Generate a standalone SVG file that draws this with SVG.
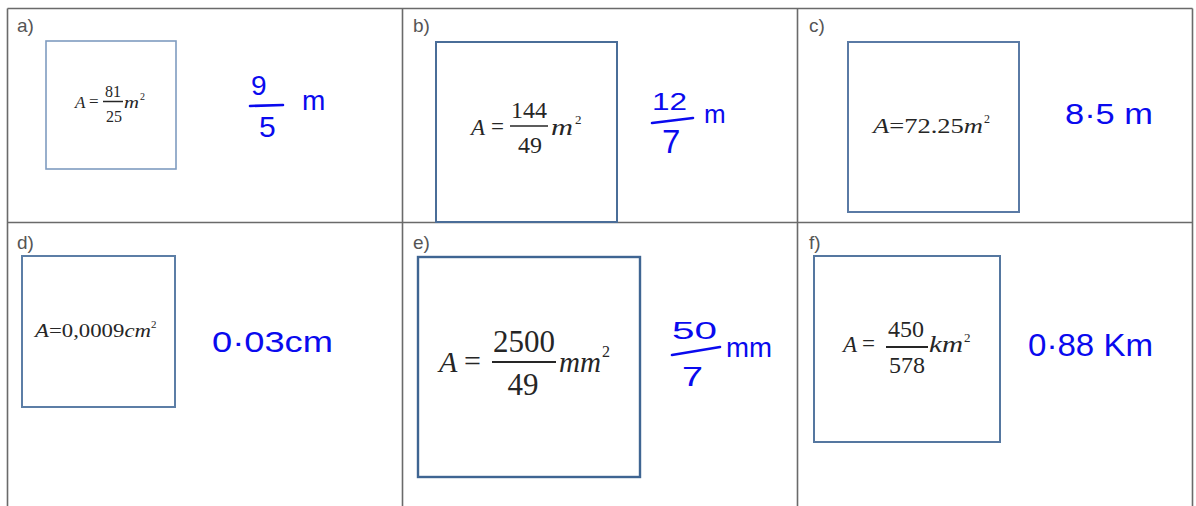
<svg xmlns="http://www.w3.org/2000/svg" width="1196" height="506" viewBox="0 0 1196 506">
<style>
.grid{stroke:#6a6a6a;stroke-width:1.6;fill:none}
.lbl{font-family:"Liberation Sans",Arial,sans-serif;font-size:19px;fill:#555}
.box{fill:none;stroke:#54759f;stroke-width:2}
.m{font-family:"Liberation Serif","Times New Roman",serif;fill:#262626}
.i{font-style:italic}
.fr{stroke:#262626;stroke-width:1.5}
.h{font-family:"Liberation Sans",Arial,sans-serif;fill:#0a0aee}
.hl{stroke:#0a0aee;stroke-width:2.6;stroke-linecap:round;fill:none}
</style>
<rect width="1196" height="506" fill="#fff"/>
<g id="table">
<path class="grid" d="M7.5 8.5 H1192.5 M7.5 8.5 V506 M402.5 8.5 V506 M797.5 8.5 V506 M1192.5 8.5 V506 M7.5 222.5 H1192.5"/>
</g>
<g id="cell-a">
<text class="lbl" x="17" y="32">a)</text>
<rect class="box" x="46" y="41" width="130" height="128" style="stroke:#7f9cc0;stroke-width:1.6"/>
<text class="m i" x="75" y="108" font-size="17">A</text>
<text class="m" x="89" y="107" font-size="17">=</text>
<text class="m" x="113" y="97" font-size="16" text-anchor="middle">81</text>
<line class="fr" x1="103" y1="101.5" x2="123" y2="101.5"/>
<text class="m" x="114" y="122" font-size="16" text-anchor="middle">25</text>
<text class="m i" x="124" y="108" font-size="17" textLength="15" lengthAdjust="spacingAndGlyphs">m</text>
<text class="m" x="140" y="100" font-size="10">2</text>
<text class="h" x="251" y="95" font-size="28">9</text>
<line class="hl" x1="250" y1="106" x2="283" y2="105"/>
<text class="h" x="259" y="137" font-size="30">5</text>
<text class="h" x="302" y="110" font-size="28">m</text>
</g>
<g id="cell-b">
<text class="lbl" x="413" y="32">b)</text>
<rect class="box" x="436" y="42" width="181" height="180" style="stroke:#4a6d98"/>
<text class="m i" x="471" y="135" font-size="23">A</text>
<text class="m" x="491" y="134" font-size="23">=</text>
<text class="m" x="529" y="118" font-size="24" text-anchor="middle">144</text>
<line class="fr" x1="510" y1="126" x2="548" y2="126"/>
<text class="m" x="530" y="153" font-size="24" text-anchor="middle">49</text>
<text class="m i" x="551" y="135" font-size="23" textLength="22" lengthAdjust="spacingAndGlyphs">m</text>
<text class="m" x="575" y="124" font-size="13">2</text>
<text class="h" x="652" y="110" font-size="24" textLength="35" lengthAdjust="spacingAndGlyphs">12</text>
<line class="hl" x1="652" y1="123" x2="693" y2="118"/>
<text class="h" x="662" y="153" font-size="33">7</text>
<text class="h" x="704" y="123" font-size="26">m</text>
</g>
<g id="cell-c">
<text class="lbl" x="809" y="32">c)</text>
<rect class="box" x="848" y="42" width="171" height="170" style="stroke:#5a7aa5"/>
<text class="m" x="873" y="133" font-size="22" textLength="110" lengthAdjust="spacingAndGlyphs"><tspan font-style="italic">A</tspan>=72.25<tspan font-style="italic">m</tspan></text>
<text class="m" x="984" y="123" font-size="12">2</text>
<text class="h" x="1065" y="124" font-size="29" textLength="88" lengthAdjust="spacingAndGlyphs">8·5 m</text>
</g>
<g id="cell-d">
<text class="lbl" x="17" y="249">d)</text>
<rect class="box" x="22" y="256" width="153" height="151" style="stroke:#5c7ea6"/>
<text class="m" x="35" y="337" font-size="18" textLength="116" lengthAdjust="spacingAndGlyphs"><tspan font-style="italic">A</tspan>=0,0009<tspan font-style="italic">cm</tspan></text>
<text class="m" x="151" y="328" font-size="11">2</text>
<text class="h" x="212" y="352" font-size="30" textLength="121" lengthAdjust="spacingAndGlyphs">0·03cm</text>
</g>
<g id="cell-e">
<text class="lbl" x="413" y="249">e)</text>
<rect class="box" x="418" y="257" width="222" height="220" style="stroke:#3f6592;stroke-width:2.4"/>
<text class="m i" x="439" y="372" font-size="30">A</text>
<text class="m" x="464" y="371" font-size="30">=</text>
<text class="m" x="524" y="352" font-size="31" text-anchor="middle">2500</text>
<line class="fr" x1="492" y1="362" x2="556" y2="362" style="stroke-width:2"/>
<text class="m" x="523" y="395" font-size="31" text-anchor="middle">49</text>
<text class="m i" x="559" y="372" font-size="30" textLength="42" lengthAdjust="spacingAndGlyphs">mm</text>
<text class="m" x="602" y="357" font-size="16">2</text>
<text class="h" x="672" y="339" font-size="24" textLength="45" lengthAdjust="spacingAndGlyphs">50</text>
<line class="hl" x1="672" y1="355" x2="720" y2="347"/>
<text class="h" x="682" y="386" font-size="27" textLength="21" lengthAdjust="spacingAndGlyphs">7</text>
<text class="h" x="726" y="357" font-size="27" textLength="46" lengthAdjust="spacingAndGlyphs">mm</text>
</g>
<g id="cell-f">
<text class="lbl" x="809" y="249">f)</text>
<rect class="box" x="814" y="256" width="186" height="186" style="stroke:#5577a0"/>
<text class="m i" x="843" y="352" font-size="23">A</text>
<text class="m" x="862" y="351" font-size="23">=</text>
<text class="m" x="906" y="337" font-size="24" text-anchor="middle">450</text>
<line class="fr" x1="886" y1="347" x2="928" y2="347" style="stroke-width:1.8"/>
<text class="m" x="907" y="373" font-size="24" text-anchor="middle">578</text>
<text class="m i" x="929" y="352" font-size="23" textLength="34" lengthAdjust="spacingAndGlyphs">km</text>
<text class="m" x="964" y="342" font-size="13">2</text>
<text class="h" x="1028" y="356" font-size="31" textLength="125" lengthAdjust="spacingAndGlyphs">0·88 Km</text>
</g>
</svg>
